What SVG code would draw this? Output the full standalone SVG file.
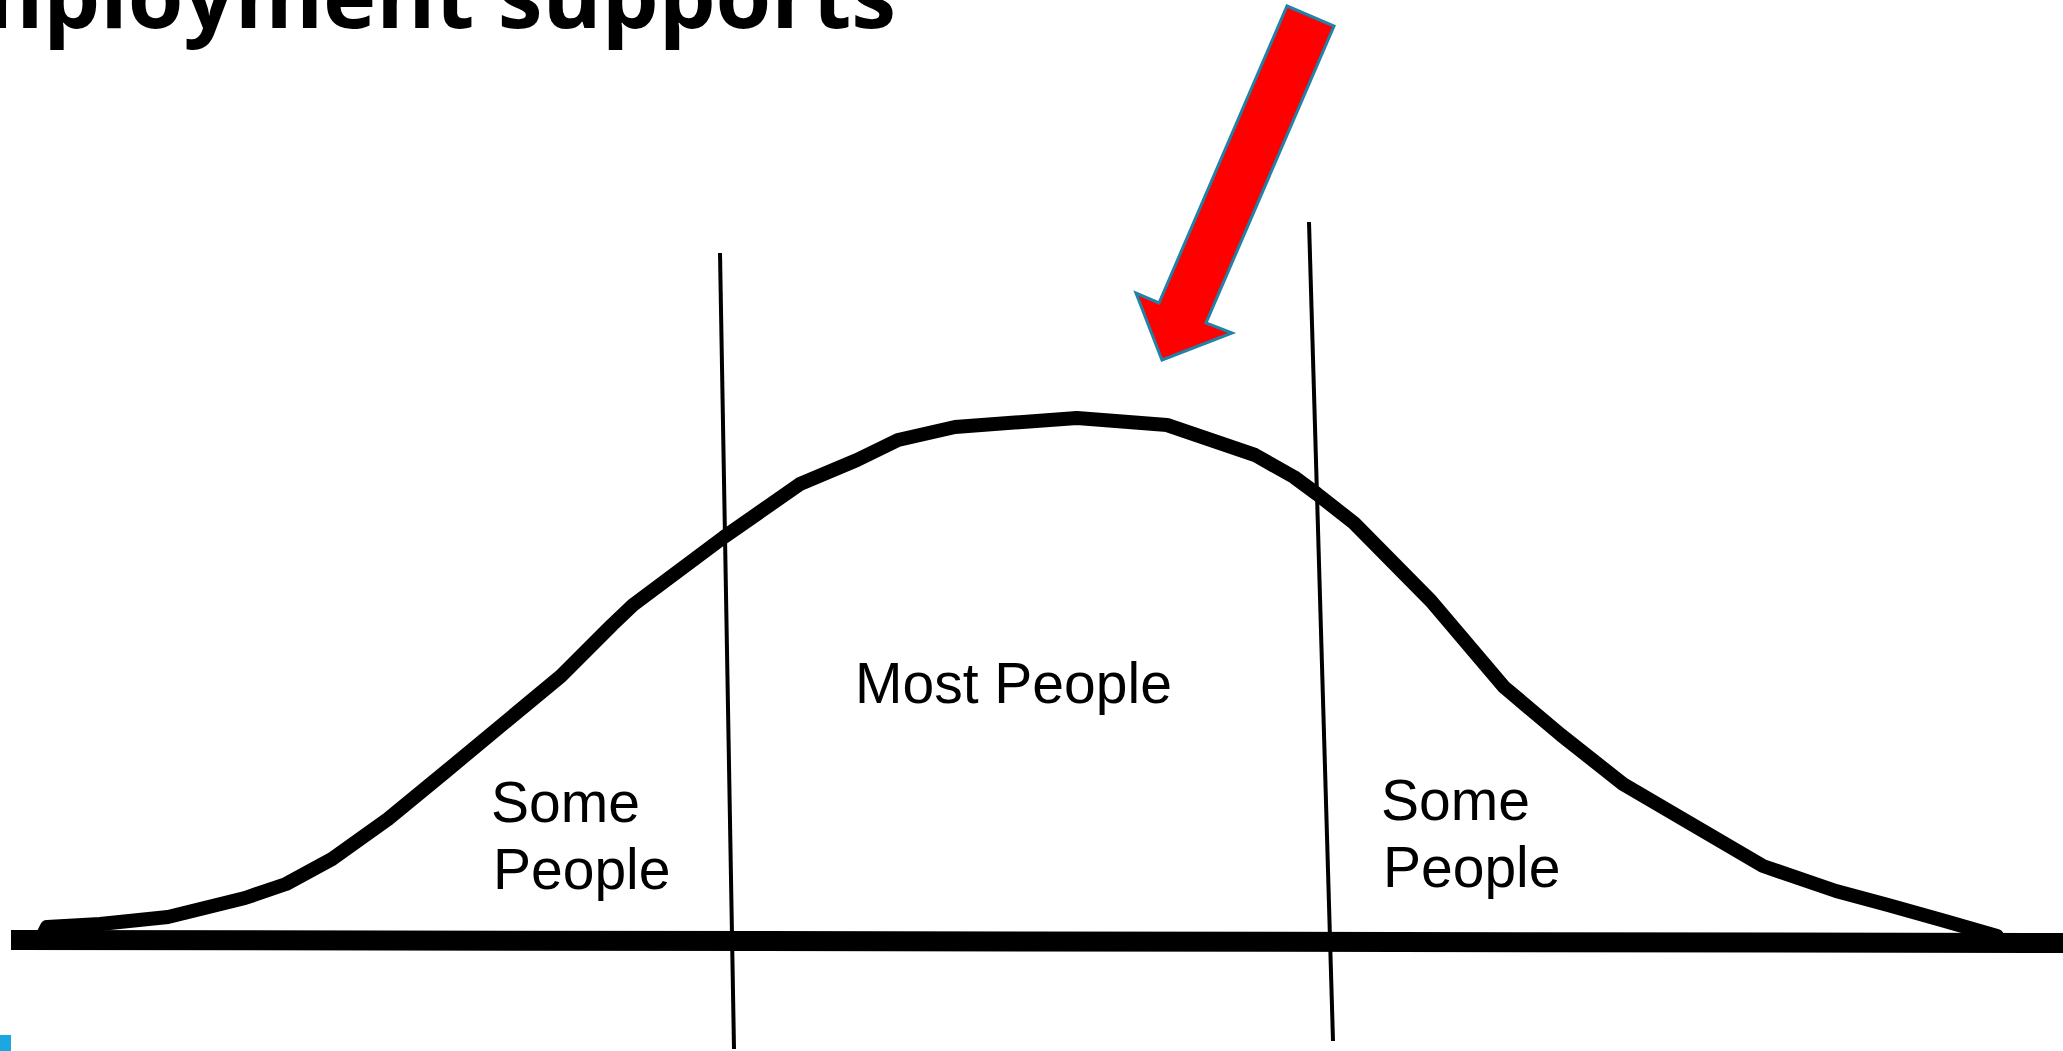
<svg xmlns="http://www.w3.org/2000/svg" width="2063" height="1051" viewBox="0 0 2063 1051">
  <style>
    .title { font-family: "Open Sans", "Liberation Sans", sans-serif; font-weight: bold; font-size: 90px; fill: #000; }
    .label { font-family: "Liberation Sans", Arial, sans-serif; font-size: 57px; fill: #000; }
    .divider { stroke: #000; stroke-width: 4; fill: none; }
    .curve { stroke: #000; stroke-width: 14; fill: none; stroke-linejoin: round; stroke-linecap: round; }
    .axis { stroke: #000; stroke-width: 20; fill: none; }
  </style>
  <rect x="0" y="0" width="2063" height="1051" fill="#ffffff"/>

  <g id="title">
    <text class="title" x="896" y="28" text-anchor="end">mployment supports</text>
  </g>

  <g id="connectors">
    <line class="axis" x1="11" y1="940" x2="2063" y2="943"/>
    <line class="divider" x1="720" y1="253" x2="734" y2="1049"/>
    <line class="divider" x1="1309" y1="222" x2="1333" y2="1041"/>
  </g>

  <g id="bell-curve">
    <polyline class="curve" points="42,937 47,927 100,924 168,917 245,898 286,884 332,859 388,819 444,773 561,676 612,625 633,605 724,537 800,484 857,460 898,440 955,427 1077,418 1167,425 1255,455 1294,477 1317,494 1354,523 1431,601 1504,687 1561,735 1623,784 1763,866 1836,891 1888,905 1945,921 1997,936"/>
  </g>

  <g id="arrow">
    <polygon points="1287,6 1334,26 1206,323 1232,333 1162,360 1136,293 1159,303" fill="#ff0000" stroke="#1f82a6" stroke-width="3" stroke-linejoin="miter"/>
  </g>

  <g id="label-most">
    <text class="label" x="855" y="703">Most People</text>
  </g>
  <g id="label-left">
    <text class="label" x="491" y="822">Some</text>
    <text class="label" x="493" y="889">People</text>
  </g>
  <g id="label-right">
    <text class="label" x="1381" y="820">Some</text>
    <text class="label" x="1383" y="887">People</text>
  </g>

  <g id="corner-mark">
    <rect x="0" y="1035" width="11" height="16" fill="#1ca7e1"/>
  </g>
</svg>
